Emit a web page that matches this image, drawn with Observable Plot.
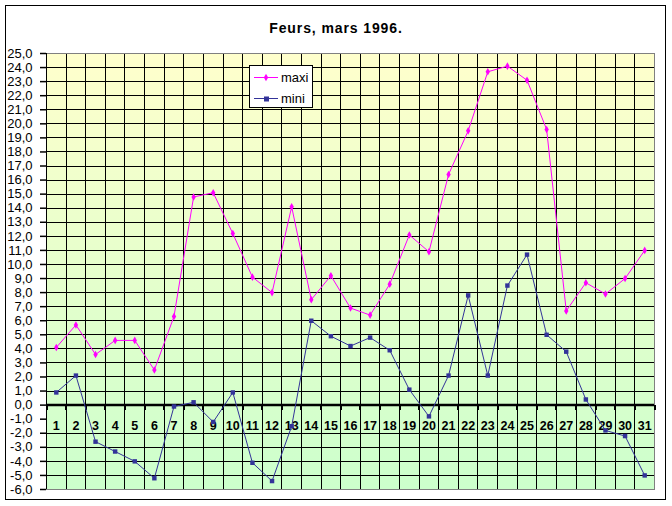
<!DOCTYPE html>
<html><head><meta charset="utf-8">
<script src="https://cdn.jsdelivr.net/npm/d3@7"></script>
<script src="https://cdn.jsdelivr.net/npm/@observablehq/plot@0.6"></script>
<style>
body{margin:0;background:#fff;}
#wrap{position:relative;width:672px;height:506px;font-family:"Liberation Sans",Arial,sans-serif;}
#title{position:absolute;left:0;top:20px;width:672px;text-align:center;font-weight:bold;font-size:14px;line-height:16px;letter-spacing:0.9px;color:#000;}
#legend{position:absolute;left:249px;top:65px;}
</style>
</head><body>
<div id="wrap">
  <div id="chart"></div>
  <div id="title">Feurs, mars 1996.</div>
  <div id="legend"></div>
</div>
<script>
const days = [1,2,3,4,5,6,7,8,9,10,11,12,13,14,15,16,17,18,19,20,21,22,23,24,25,26,27,28,29,30,31];
const maxi = [4.1,5.7,3.6,4.6,4.6,2.5,6.3,14.8,15.1,12.2,9.1,8.0,14.1,7.5,9.2,6.9,6.4,8.6,12.1,10.9,16.4,19.5,23.7,24.1,23.1,19.6,6.7,8.7,7.9,9.0,11.0];
const mini = [0.9,2.1,-2.6,-3.3,-4.0,-5.2,-0.1,0.2,-1.2,0.9,-4.1,-5.4,-1.5,6.0,4.9,4.2,4.8,3.9,1.1,-0.8,2.1,7.8,2.1,8.5,10.7,5.0,3.8,0.4,-1.8,-2.2,-5.0];
const yTicks = [-6,-5,-4,-3,-2,-1,0,1,2,3,4,5,6,7,8,9,10,11,12,13,14,15,16,17,18,19,20,21,22,23,24,25];
const seriesNames = ["maxi", "mini"];
const seriesColors = ["#FF00FF", "#333399"];

const maxiData = days.map((d, i) => ({day: d, v: maxi[i]}));
const miniData = days.map((d, i) => ({day: d, v: mini[i]}));
const boundaries = days.map(d => d - 0.5).concat([days[days.length - 1] + 0.5]);
const fmt = v => v.toFixed(1).replace(".", ",");
const crisp = "crispEdges";

const chart = Plot.plot({
  width: 672,
  height: 506,
  marginLeft: 46,
  marginRight: 18,
  marginTop: 53,
  marginBottom: 17,
  style: {fontFamily: '"Liberation Sans", Arial, sans-serif', background: "transparent", color: "#000", overflow: "visible"},
  x: {type: "linear", domain: [0.5, 31.5], axis: null},
  y: {domain: [-6, 25], label: null},
  marks: [
    Plot.frame({fill: "url(#bggrad)", stroke: "none"}),
    Plot.frame({stroke: "#000", fill: "none", insetLeft: -41, insetTop: -48, insetRight: -11, insetBottom: -10, shapeRendering: crisp}),
    Plot.ruleY(yTicks.filter(v => v !== -1 && v !== 0 && v !== -6 && v !== 25), {stroke: "#000", strokeWidth: 1, shapeRendering: crisp}),
    Plot.ruleX(boundaries.slice(1, -1), {stroke: "#000", strokeWidth: 1, shapeRendering: crisp}),
    Plot.frame({stroke: "#808080", fill: "none", shapeRendering: crisp}),
    Plot.ruleX([boundaries[0]], {stroke: "#000", strokeWidth: 1, shapeRendering: crisp}),
    Plot.axisY({ticks: yTicks, tickFormat: fmt, tickSize: 6, tickPadding: 8, fontSize: 13, stroke: "#000", strokeWidth: 1.5, label: null}),
    Plot.ruleY([0], {stroke: "#000", strokeWidth: 2.5}),
    Plot.ruleX(boundaries, {y1: 0, y2: 0, insetTop: 0, insetBottom: -5, stroke: "#000", strokeWidth: 2, shapeRendering: crisp}),
    Plot.text(days, {x: d => d, y: 0, dy: 21, text: d => String(d), fontWeight: "bold", fontSize: 12.5, fill: "#000"}),
    Plot.line(maxiData, {x: "day", y: "v", stroke: seriesColors[0], strokeWidth: 1}),
    Plot.dot(maxiData, {x: "day", y: "v", symbol: "diamond", r: 2.3, fill: seriesColors[0], stroke: "none"}),
    Plot.line(miniData, {x: "day", y: "v", stroke: seriesColors[1], strokeWidth: 1}),
    Plot.dot(miniData, {x: "day", y: "v", symbol: "square", r: 2.5, fill: seriesColors[1], stroke: "none"})
  ]
});

// gradient background for the plot area
const svgSel = d3.select(chart);
const defs = svgSel.insert("defs", ":first-child");
const grad = defs.append("linearGradient").attr("id", "bggrad").attr("x1", 0).attr("y1", 0).attr("x2", 0).attr("y2", 1);
grad.append("stop").attr("offset", "0%").attr("stop-color", "#FFFFCC");
grad.append("stop").attr("offset", "100%").attr("stop-color", "#CCFFCC");
document.getElementById("chart").appendChild(chart);

// legend
const leg = d3.select("#legend").append("svg").attr("width", 64).attr("height", 43)
  .style("font-family", '"Liberation Sans", Arial, sans-serif').style("overflow", "visible");
leg.append("rect").attr("x", 0.5).attr("y", 0.5).attr("width", 63).attr("height", 42).attr("fill", "#fff").attr("stroke", "#000");
seriesNames.forEach((name, i) => {
  const cy = 12 + i * 21;
  const g = leg.append("g");
  g.append("line").attr("x1", 5).attr("x2", 29).attr("y1", cy + 0.5).attr("y2", cy + 0.5).attr("stroke", seriesColors[i]).attr("stroke-width", 1);
  if (i === 0) {
    g.append("path").attr("d", d3.symbol(d3.symbolDiamond, 16)()).attr("transform", `translate(17,${cy + 0.5})`).attr("fill", seriesColors[i]);
  } else {
    g.append("rect").attr("x", 15).attr("y", cy - 1.5).attr("width", 5).attr("height", 5).attr("fill", seriesColors[i]);
  }
  g.append("text").attr("x", 32).attr("y", cy + 5).attr("font-size", 13).attr("fill", "#000").text(name);
});
</script>
</body></html>
